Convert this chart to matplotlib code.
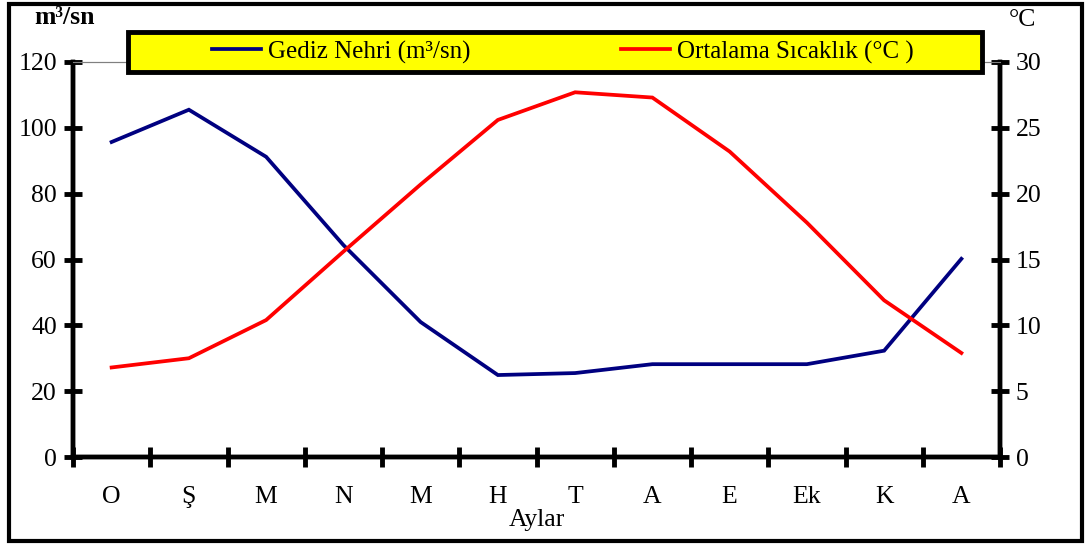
import matplotlib.pyplot as plt
from matplotlib.patches import Rectangle
import numpy as np

# data
months = ["O", "Ş", "M", "N", "M", "H", "T", "A", "E", "Ek", "K", "A"]
gediz_flow = [95.7, 105.5, 91.2, 64.4, 41.0, 24.9, 25.5, 28.2, 28.2, 28.2, 32.3, 60.2]
temperature = [6.8, 7.5, 10.4, 15.6, 20.7, 25.6, 27.7, 27.3, 23.2, 17.8, 11.9, 7.9]

FS = 18.5
plt.rcParams['font.family'] = ['Liberation Serif', 'DejaVu Serif']
plt.rcParams['font.size'] = FS

W, H = 1088, 545
fig = plt.figure(figsize=(W / 100, H / 100), dpi=100)
ax = fig.add_axes([73 / W, 1 - 457 / H, 927 / W, 395 / H])
ax2 = ax.twinx()

x = np.arange(len(months))
l1, = ax.plot(x, gediz_flow, color='#000080', lw=2.7, solid_joinstyle='miter')
l2, = ax2.plot(x, temperature, color='#ff0000', lw=2.7, solid_joinstyle='miter')

ax.set_xlim(-0.5, len(months) - 0.5)
ax.set_ylim(0, 120)
ax2.set_ylim(0, 30)
ax.set_yticks(range(0, 121, 20))
ax2.set_yticks(range(0, 31, 5))

ax.set_xticks(np.arange(-0.5, len(months), 1))
ax.set_xticklabels([])
ax.set_xticks(x, minor=True)
ax.set_xticklabels(months, minor=True)
ax.tick_params(axis='x', which='major', direction='inout', length=14, width=3.5)
ax.tick_params(axis='x', which='minor', length=0, pad=21, labelsize=FS)
ax.tick_params(axis='y', direction='inout', length=13, width=3.5, pad=5, labelsize=FS)
ax2.tick_params(axis='y', direction='inout', length=13, width=3.5, pad=5, labelsize=FS)

for a in (ax, ax2):
    a.spines['left'].set_linewidth(3.2)
    a.spines['right'].set_linewidth(3.2)
    a.spines['bottom'].set_linewidth(3.2)
    a.spines['top'].set_linewidth(0.8)
    a.spines['top'].set_color('#808080')

fig.text(537 / W, 1 - 520 / H, "Aylar", ha='center', va='center', fontsize=FS)
fig.text(65 / W, 1 - 18 / H, "m³/sn", ha='center', va='center', fontsize=FS, fontweight='bold')
fig.text(1022 / W, 1 - 20 / H, "°C", ha='center', va='center', fontsize=FS)

# yellow legend box
fig.patches.append(Rectangle((128 / W, 1 - 72 / H), 854 / W, 40 / H,
                             transform=fig.transFigure, facecolor='#ffff00',
                             edgecolor='black', linewidth=3.5, zorder=5))
leg = fig.legend([l1, l2], ["Gediz Nehri (m³/sn)", "Ortalama Sıcaklık (°C )"],
                 loc='center', bbox_to_anchor=(563 / W, 1 - 52 / H),
                 ncol=2, frameon=False, fontsize=18,
                 handlelength=1.95, handletextpad=0.3, columnspacing=6.0)
leg.set_zorder(6)

# outer frame around the figure
fig.patches.append(Rectangle((9 / W, 4 / H), 1073 / W, 537 / H,
                             transform=fig.transFigure, fill=False,
                             edgecolor='black', linewidth=3))

fig.savefig("out.png", dpi=100)
